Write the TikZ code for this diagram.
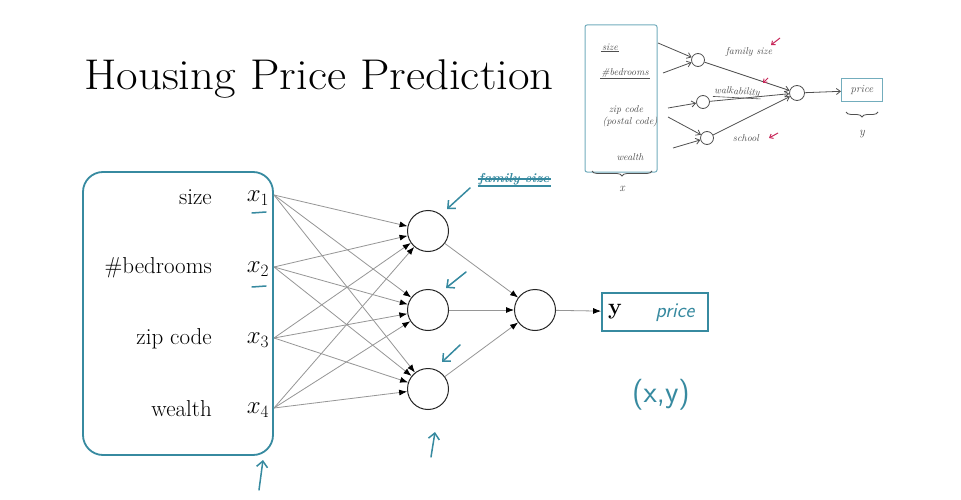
\documentclass[tikz,border=0pt]{standalone}
\usetikzlibrary{arrows.meta,decorations.pathreplacing}
\definecolor{teal1}{RGB}{55,138,160}
\definecolor{gline}{RGB}{150,150,150}
\definecolor{ink}{RGB}{80,80,80}
\definecolor{redink}{RGB}{200,40,90}
\begin{document}
\begin{tikzpicture}[x=1pt,y=-1pt,
  lbl/.style={font=\fontsize{23}{26}\selectfont, anchor=east, inner sep=0pt},
  xl/.style={font=\fontsize{23}{26}\selectfont, inner sep=0pt},
  neuron/.style={circle, draw=black!85, line width=1pt, minimum size=41pt, inner sep=0pt},
  conn/.style={draw=gline, line width=0.8pt, -{Latex[length=8pt,width=6pt,black]}},
  bluepen/.style={draw=teal1, line width=1.5pt, line cap=round},
  bluearrow/.style={bluepen, -{Straight Barb[length=6pt,width=11pt]}},
  hand/.style={text=teal1, font=\sffamily\itshape\fontsize{22}{24}\selectfont, inner sep=0pt},
  smalltxt/.style={text=ink, font=\itshape\fontsize{10}{11}\selectfont, inner sep=1pt},
  sneuron/.style={circle, draw=ink, line width=0.8pt, minimum size=13pt, inner sep=0pt},
  sconn/.style={draw=ink, line width=0.8pt, -{Straight Barb[length=4pt,width=6pt]}},
  redarrow/.style={draw=redink, line width=1pt, -{Straight Barb[length=3pt,width=5pt]}}
]
\useasboundingbox (0,0) rectangle (961,500);
\fill[white] (0,0) rectangle (961,500);

% title
\node[font=\fontsize{43}{48}\selectfont, inner sep=0pt] (title) at (319,79) {\scalebox{1.09}[1]{Housing Price Prediction}};

% input box
\node[draw=teal1, line width=1.8pt, rounded corners=20pt, minimum width=190pt, minimum height=283pt, inner sep=0pt] (inbox) at (178,313.5) {};

\node[lbl] (l1) at (212,197) {size};
\node[lbl] (l2) at (212,268) {\#bedrooms};
\node[lbl] (l3) at (212,339) {zip code};
\node[lbl] (l4) at (212,409) {wealth};
\node[xl] (x1) at (258,198) {$x_1$};
\node[xl] (x2) at (258,269) {$x_2$};
\node[xl] (x3) at (258,340) {$x_3$};
\node[xl] (x4) at (258,410) {$x_4$};
\coordinate (i1) at (274,195);
\coordinate (i2) at (274,267);
\coordinate (i3) at (274,338);
\coordinate (i4) at (274,408);

% underlines
\coordinate (u1a) at (252,213); \coordinate (u1b) at (266,212);
\coordinate (u2a) at (252,287); \coordinate (u2b) at (266,286);
\draw[bluepen] (u1a) -- (u1b);
\draw[bluepen] (u2a) -- (u2b);

% neurons
\node[neuron] (h1) at (428,231) {};
\node[neuron] (h2) at (428,310) {};
\node[neuron] (h3) at (428,389) {};
\node[neuron] (o) at (535,310) {};

\foreach \i in {i1,i2,i3,i4}{
  \foreach \h in {h1,h2,h3}{
    \draw[conn] (\i) -- (\h);
  }
}
\foreach \h in {h1,h2,h3}{
  \draw[conn] (\h) -- (o);
}

% output box
\node[draw=teal1, line width=1.8pt, minimum width=106pt, minimum height=38pt, inner sep=0pt] (ybox) at (655,312) {};
\node[font=\bfseries\fontsize{23}{26}\selectfont, inner sep=0pt] (ylab) at (615,312) {y};
\node[hand, font=\sffamily\itshape\fontsize{21}{23}\selectfont] (price) at (675,313) {price};
\draw[conn] (o) -- (ybox);

\node[hand, font=\sffamily\fontsize{31}{33}\selectfont] (xy) at (661,395) {(x,y)};

% family size scribble
\node[text=teal1, font=\bfseries\itshape\fontsize{13}{14}\selectfont, inner sep=1pt] (fs) at (514,179) {family size};
\draw[teal1, line width=1.2pt] (fs.west) -- (fs.east);
\draw[teal1, line width=1.5pt] (fs.south west) -- (fs.south east);

% blue annotation arrows
\coordinate (a1s) at (470,188); \coordinate (a1e) at (447,209);
\coordinate (a2s) at (466,272); \coordinate (a2e) at (446,288);
\coordinate (a3s) at (460,345); \coordinate (a3e) at (442,362);
\coordinate (a4s) at (431,457); \coordinate (a4e) at (435,432);
\coordinate (a5s) at (259,490); \coordinate (a5e) at (263,460);
\draw[bluearrow] (a1s) -- (a1e);
\draw[bluearrow] (a2s) -- (a2e);
\draw[bluearrow] (a3s) -- (a3e);
\draw[bluearrow] (a4s) -- (a4e);
\draw[bluearrow] (a5s) -- (a5e);

% ---------- inset sketch ----------
\node[draw=teal1!70, line width=1pt, rounded corners=2pt, minimum width=72pt, minimum height=147pt, inner sep=0pt] (sbox) at (621,98.5) {};
\node[smalltxt] (s1) at (610,47) {size};
\node[smalltxt] (s2) at (625,73) {\#bedrooms};
\node[smalltxt] (s3) at (626,110) {zip code};
\node[smalltxt] (s3b) at (630,122) {(postal code)};
\node[smalltxt] (s4) at (630,157) {wealth};
\draw[ink, line width=0.6pt] (s1.south west) -- (s1.south east);
\draw[ink, line width=0.6pt] (s2.south west) -- (s2.south east);

\node[sneuron] (sh1) at (698,60) {};
\node[sneuron] (sh2) at (703,102) {};
\node[sneuron] (sh3) at (707,138) {};
\node[sneuron, minimum size=15pt] (so) at (797,93) {};
\node[draw=teal1!70, line width=1pt, minimum width=41pt, minimum height=23pt, inner sep=0pt] (spbox) at (862,90.5) {};
\node[smalltxt, font=\itshape\fontsize{11}{12}\selectfont] (sprice) at (862,90) {price};

\coordinate (c1) at (658,43);
\coordinate (c2) at (663,73);
\coordinate (c3) at (668,108);
\coordinate (c4) at (668,117);
\coordinate (c5) at (673,148);
\draw[sconn] (c1) -- (sh1);
\draw[sconn] (c2) -- (sh1);
\draw[sconn] (c3) -- (sh2);
\draw[sconn] (c4) -- (sh3);
\draw[sconn] (c5) -- (sh3);
\draw[sconn] (sh1) -- (so);
\draw[sconn] (sh2) -- (so);
\draw[sconn] (sh3) -- (so);
\draw[sconn] (so) -- (spbox);

\node[smalltxt] (fam) at (749,52) {family size};
\node[smalltxt, rotate=-3] (walk) at (737,92) {walkability};
\draw[ink, line width=0.6pt] (walk.south west) -- (walk.south east);
\node[smalltxt] (sch) at (746,138) {school};

\coordinate (r1s) at (780,38); \coordinate (r1e) at (771,45);
\coordinate (r2s) at (768,78); \coordinate (r2e) at (763,83);
\coordinate (r3s) at (778,133); \coordinate (r3e) at (769,138);
\draw[redarrow] (r1s) -- (r1e);
\draw[redarrow] (r2s) -- (r2e);
\draw[redarrow] (r3s) -- (r3e);

\coordinate (bx1) at (592,171); \coordinate (bx2) at (652,171);
\draw[ink, line width=0.8pt, decorate, decoration={brace, mirror, amplitude=5pt}] (bx1) -- (bx2);
\node[smalltxt, font=\itshape\fontsize{12}{13}\selectfont] (sx) at (622,189) {x};
\coordinate (by1) at (846,112); \coordinate (by2) at (878,112);
\draw[ink, line width=0.8pt, decorate, decoration={brace, mirror, amplitude=5pt}] (by1) -- (by2);
\node[smalltxt, font=\itshape\fontsize{12}{13}\selectfont] (sy) at (862,134) {y};
\end{tikzpicture}
\end{document}
